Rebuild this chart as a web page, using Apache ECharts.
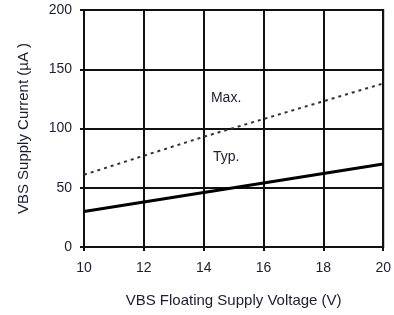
<!DOCTYPE html>
<html><head><meta charset="utf-8">
<script src="https://cdn.jsdelivr.net/npm/echarts@6/dist/echarts.min.js"></script>
<style>html,body{margin:0;padding:0;background:#fff}#c{width:394px;height:315px}</style>
</head><body><div id="c"></div>
<script>
var voltage = [10, 12, 14, 16, 18, 20];
var typCurrent = [30, 38, 46, 54, 62, 70];
var maxCurrent = [61, 77, 93, 108, 123, 138];
var xTicks = [10, 12, 14, 16, 18, 20];
var yTicks = [0, 50, 100, 150, 200];

var chart = echarts.init(document.getElementById('c'));
var txt = '#1c1c34';
chart.setOption({
  animation: false,
  grid: {left: 84, right: 9, top: 10, bottom: 68, show: true, borderColor: '#111', borderWidth: 2},
  xAxis: {
    type: 'value', min: 10, max: 20, interval: 2,
    name: 'VBS Floating Supply Voltage (V)', nameLocation: 'middle', nameGap: 46,
    nameTextStyle: {fontFamily: 'Liberation Sans', fontSize: 15, color: txt},
    axisLine: {show: true, lineStyle: {color: '#111', width: 2}},
    axisTick: {show: true, length: 4, lineStyle: {color: '#111', width: 2}},
    axisLabel: {fontFamily: 'Liberation Sans', fontSize: 14, color: txt, margin: 14},
    splitLine: {show: true, lineStyle: {color: '#111', width: 2}}
  },
  yAxis: {
    type: 'value', min: 0, max: 200, interval: 50,
    name: 'VBS Supply Current (µA )', nameLocation: 'middle', nameGap: 53,
    nameTextStyle: {fontFamily: 'Liberation Sans', fontSize: 15, color: txt},
    axisLine: {show: true, lineStyle: {color: '#111', width: 2}},
    axisTick: {show: true, length: 4, lineStyle: {color: '#111', width: 2}},
    axisLabel: {fontFamily: 'Liberation Sans', fontSize: 14, color: txt, margin: 12},
    splitLine: {show: true, lineStyle: {color: '#111', width: 2}}
  },
  series: [
    {
      type: 'line', name: 'Typ.', symbol: 'none',
      data: voltage.map(function (v, i) { return [v, typCurrent[i]]; }),
      lineStyle: {color: '#000', width: 3},
      markPoint: {symbol: 'circle', symbolSize: 0, silent: true,
        label: {show: true, formatter: 'Typ.', fontFamily: 'Liberation Sans', fontSize: 14, color: txt},
        data: [{coord: [14.75, 76]}]}
    },
    {
      type: 'line', name: 'Max.', symbol: 'none',
      data: voltage.map(function (v, i) { return [v, maxCurrent[i]]; }),
      lineStyle: {color: '#333', width: 2, type: [3, 4]},
      markPoint: {symbol: 'circle', symbolSize: 0, silent: true,
        label: {show: true, formatter: 'Max.', fontFamily: 'Liberation Sans', fontSize: 14, color: txt},
        data: [{coord: [14.75, 126]}]}
    }
  ]
});
</script></body></html>
